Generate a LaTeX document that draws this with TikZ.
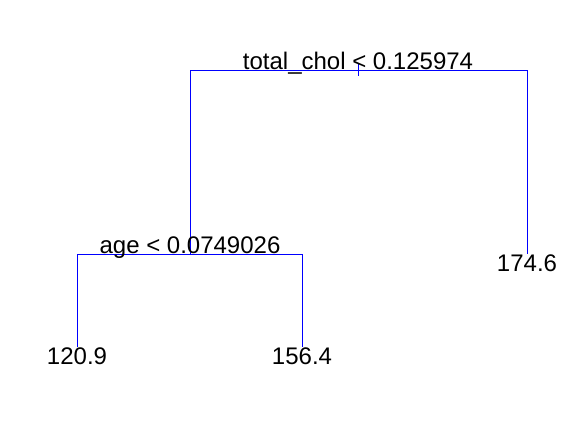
\documentclass[tikz,border=0pt]{standalone}
\usepackage{fontspec}
\setmainfont{Liberation Sans}
\begin{document}
\begin{tikzpicture}[x=1bp,y=-1bp,
  edge/.style={draw=blue,line width=0.8bp},
  lbl/.style={anchor=base,inner sep=0pt,font=\fontsize{24bp}{28bp}\selectfont}]
\useasboundingbox (0,0) rectangle (576,432);
% tree points
\coordinate (rtop) at (358,64);
\coordinate (rbot) at (358,76);
\coordinate (rl) at (190,70);
\coordinate (rr) at (527,70);
\coordinate (a) at (190,254);
\coordinate (al) at (77,254);
\coordinate (ar) at (302,254);
\coordinate (leafA) at (77,347);
\coordinate (leafB) at (302,347);
\coordinate (leafC) at (527,254);
% edges
\draw[edge] (rtop) -- (rbot);
\draw[edge] (a) -- (rl) -- (rr) -- (leafC);
\draw[edge] (leafA) -- (al) -- (ar) -- (leafB);
% labels
\node[lbl] (t1) at (358,69.5) {total\_chol < 0.125974};
\node[lbl] (t2) at (190,253.5) {age < 0.0749026};
\node[lbl] (l1) at (77,364) {120.9};
\node[lbl] (l2) at (302,364) {156.4};
\node[lbl] (l3) at (527,271.5) {174.6};
\end{tikzpicture}
\end{document}
